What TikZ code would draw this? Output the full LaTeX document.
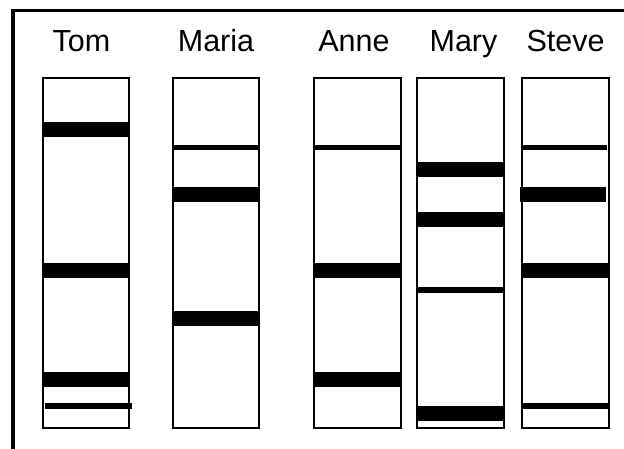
\documentclass[tikz,border=0pt]{standalone}
\usepackage{fontspec}
\setmainfont{Liberation Sans}
\newcommand\gelband[4]{\fill[black] (#1,-#3+#4/2) rectangle (#2,-#3-#4/2);}
\begin{document}
\begin{tikzpicture}[x=1pt,y=1pt,
  lane/.style={draw=black,line width=1.5pt,fill=white},
  personlabel/.style={anchor=base,inner sep=0pt,font=\fontsize{30.5}{34}\selectfont}]
\useasboundingbox (0,0) rectangle (624,-448);
\fill[white] (0,0) rectangle (624,-448);
\clip (0,0) rectangle (624,-448);
% outer frame (runs off the right and bottom edges)
\draw[line width=3.5pt] (13,-460) -- (13,-10.5) -- (640,-10.5);
% labels
\node[personlabel] (tom)   at (81.5,-51)  {Tom};
\node[personlabel] (maria) at (216,-51)   {Maria};
\node[personlabel] (anne)  at (354,-51)   {Anne};
\node[personlabel] (mary)  at (463.5,-51) {Mary};
\node[personlabel] (steve) at (565.5,-51) {Steve};
% lanes
\draw[lane] (43,-78) rectangle (129,-428);
\draw[lane] (173,-78) rectangle (259,-428);
\draw[lane] (314,-78) rectangle (401,-428);
\draw[lane] (417,-78) rectangle (504,-428);
\draw[lane] (522,-78) rectangle (609,-428);
% Tom
\gelband{43}{129}{129.5}{15}
\gelband{43}{129}{270}{15}
\gelband{43}{129}{379.5}{15}
\gelband{45}{132}{406}{5.5}
% Maria
\gelband{173}{259}{147.5}{5.5}
\gelband{173}{259}{194.5}{15}
\gelband{173}{259}{318}{15}
% Anne
\gelband{314}{401}{147.5}{5.5}
\gelband{314}{401}{270}{15}
\gelband{314}{401}{379.5}{15}
% Mary
\gelband{417}{504}{169.5}{15}
\gelband{417}{504}{219.5}{15}
\gelband{417}{504}{290}{5.5}
\gelband{417}{504}{413.5}{15}
% Steve
\gelband{521}{607}{147.5}{5.5}
\gelband{520}{606}{194.5}{15}
\gelband{522}{609}{270}{15}
\gelband{522}{609}{406}{5.5}
\end{tikzpicture}
\end{document}
